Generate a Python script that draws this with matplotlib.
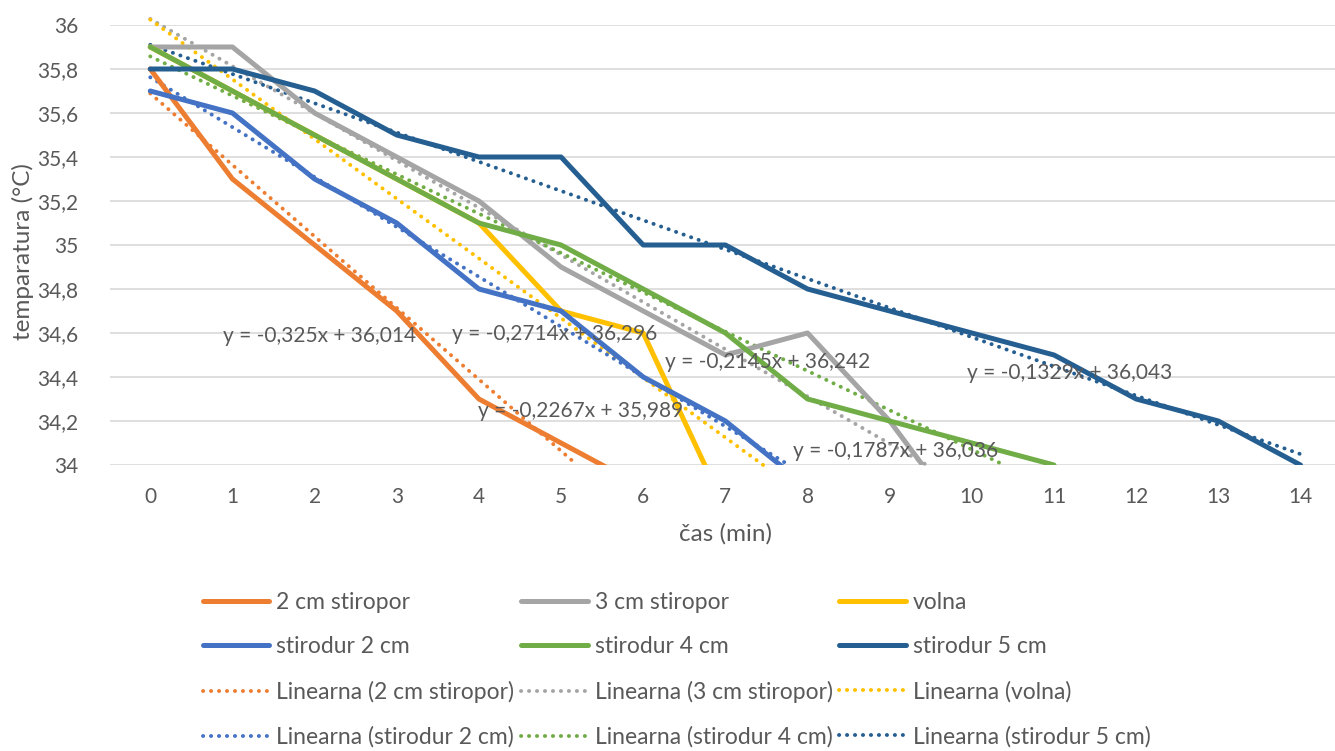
import numpy as np
import matplotlib
matplotlib.use('Agg')
import matplotlib.pyplot as plt

plt.rcParams['font.family'] = ['Lato', 'DejaVu Sans']

minutes = list(range(15))
names = ['2 cm stiropor', '3 cm stiropor', 'volna', 'stirodur 2 cm', 'stirodur 4 cm', 'stirodur 5 cm']
colors = ['#ED7D31', '#A5A5A5', '#FFC000', '#4472C4', '#70AD47', '#255E91']

# measured temperatures (values past the 34 °C floor are estimates)
stiropor_2 = [35.8, 35.3, 35.0, 34.7, 34.3, 34.1, 33.9]
stiropor_3 = [35.9, 35.9, 35.6, 35.4, 35.2, 34.9, 34.7, 34.5, 34.6, 34.2, 33.7]
volna = [35.9, 35.7, 35.5, 35.3, 35.1, 34.7, 34.6, 33.8, 33.6]
stirodur_2 = [35.7, 35.6, 35.3, 35.1, 34.8, 34.7, 34.4, 34.2, 33.9]
stirodur_4 = [35.9, 35.7, 35.5, 35.3, 35.1, 35.0, 34.8, 34.6, 34.3, 34.2, 34.1, 34.0]
stirodur_5 = [35.8, 35.8, 35.7, 35.5, 35.4, 35.4, 35.0, 35.0, 34.8, 34.7, 34.6, 34.5, 34.3, 34.2, 34.0]
series = [stiropor_2, stiropor_3, volna, stirodur_2, stirodur_4, stirodur_5]

# trendline equations shown on the chart (x counted from 1)
slopes = [-0.325, -0.2145, -0.2714, -0.2267, -0.1787, -0.1329]
intercepts = [36.014, 36.242, 36.296, 35.989, 36.036, 36.043]
label_pos = [(0.89, 34.586), (6.27, 34.47), (3.67, 34.595), (3.99, 34.245), (7.82, 34.064), (9.94, 34.418)]

fig = plt.figure(figsize=(13.35, 7.51), dpi=100)
ax = fig.add_axes([110/1335, 1-465/751, 1-110/1335, (465-25)/751])

ymin, ymax = 34, 36
line_handles = []
trend_handles = []
for i in range(len(series)):
    h, = ax.plot(minutes[:len(series[i])], series[i], color=colors[i], lw=3.6,
                 solid_joinstyle='round', solid_capstyle='round', label=names[i], zorder=3)
    line_handles.append(h)

for i in range(len(series)):
    m, b = slopes[i], intercepts[i]
    last = len(series[i]) - 1
    x_end = min(last, (ymin - b) / m - 1)
    xs = np.array([0, x_end])
    t, = ax.plot(xs, m * (xs + 1) + b, color=colors[i], lw=2.8,
                 linestyle=(0, (0.05, 2.0)), dash_capstyle='round', clip_on=False,
                 label='Linearna (' + names[i] + ')', zorder=2)
    trend_handles.append(t)
    txt = 'y = ' + str(m).replace('.', ',') + 'x + ' + str(b).replace('.', ',')
    ax.text(label_pos[i][0], label_pos[i][1], txt, fontsize=15, color='#595959',
            ha='left', va='center', zorder=4)

ax.set_xlim(-0.49, 14.42)
ax.set_ylim(ymin, ymax)
ax.set_xticks(minutes)
yt = np.round(np.arange(34, 36.01, 0.2), 1)
ax.set_yticks(yt)
ax.set_yticklabels([('%g' % v).replace('.', ',') for v in yt])
ax.tick_params(axis='both', length=0, labelsize=15, labelcolor='#595959')
ax.tick_params(axis='y', pad=23)
ax.tick_params(axis='x', pad=16)
ax.grid(axis='y', color='#D9D9D9', lw=1.2)
ax.set_axisbelow(True)
for s in ax.spines.values():
    s.set_visible(False)

fig.text(726/1335, 1-534/751, 'čas (min)', fontsize=17.5, color='#595959', ha='center', va='center')
fig.text(23/1335, 1-252/751, 'temparatura (°C)', fontsize=17.5, color='#595959',
         ha='center', va='center', rotation=90)

# legend: Excel fills rows, matplotlib fills columns
handles = []
for c in range(3):
    handles += [line_handles[c], line_handles[c + 3], trend_handles[c], trend_handles[c + 3]]
fig.legend(handles=handles, labels=[h.get_label() for h in handles], ncol=3,
           loc='upper left', bbox_to_anchor=(203/1335, 1-592/751), frameon=False,
           fontsize=16.5, labelcolor='#595959', handlelength=2.9, handletextpad=0.3,
           columnspacing=0.3, labelspacing=1.02, borderpad=0, borderaxespad=0)

fig.savefig('out.png', dpi=100)
